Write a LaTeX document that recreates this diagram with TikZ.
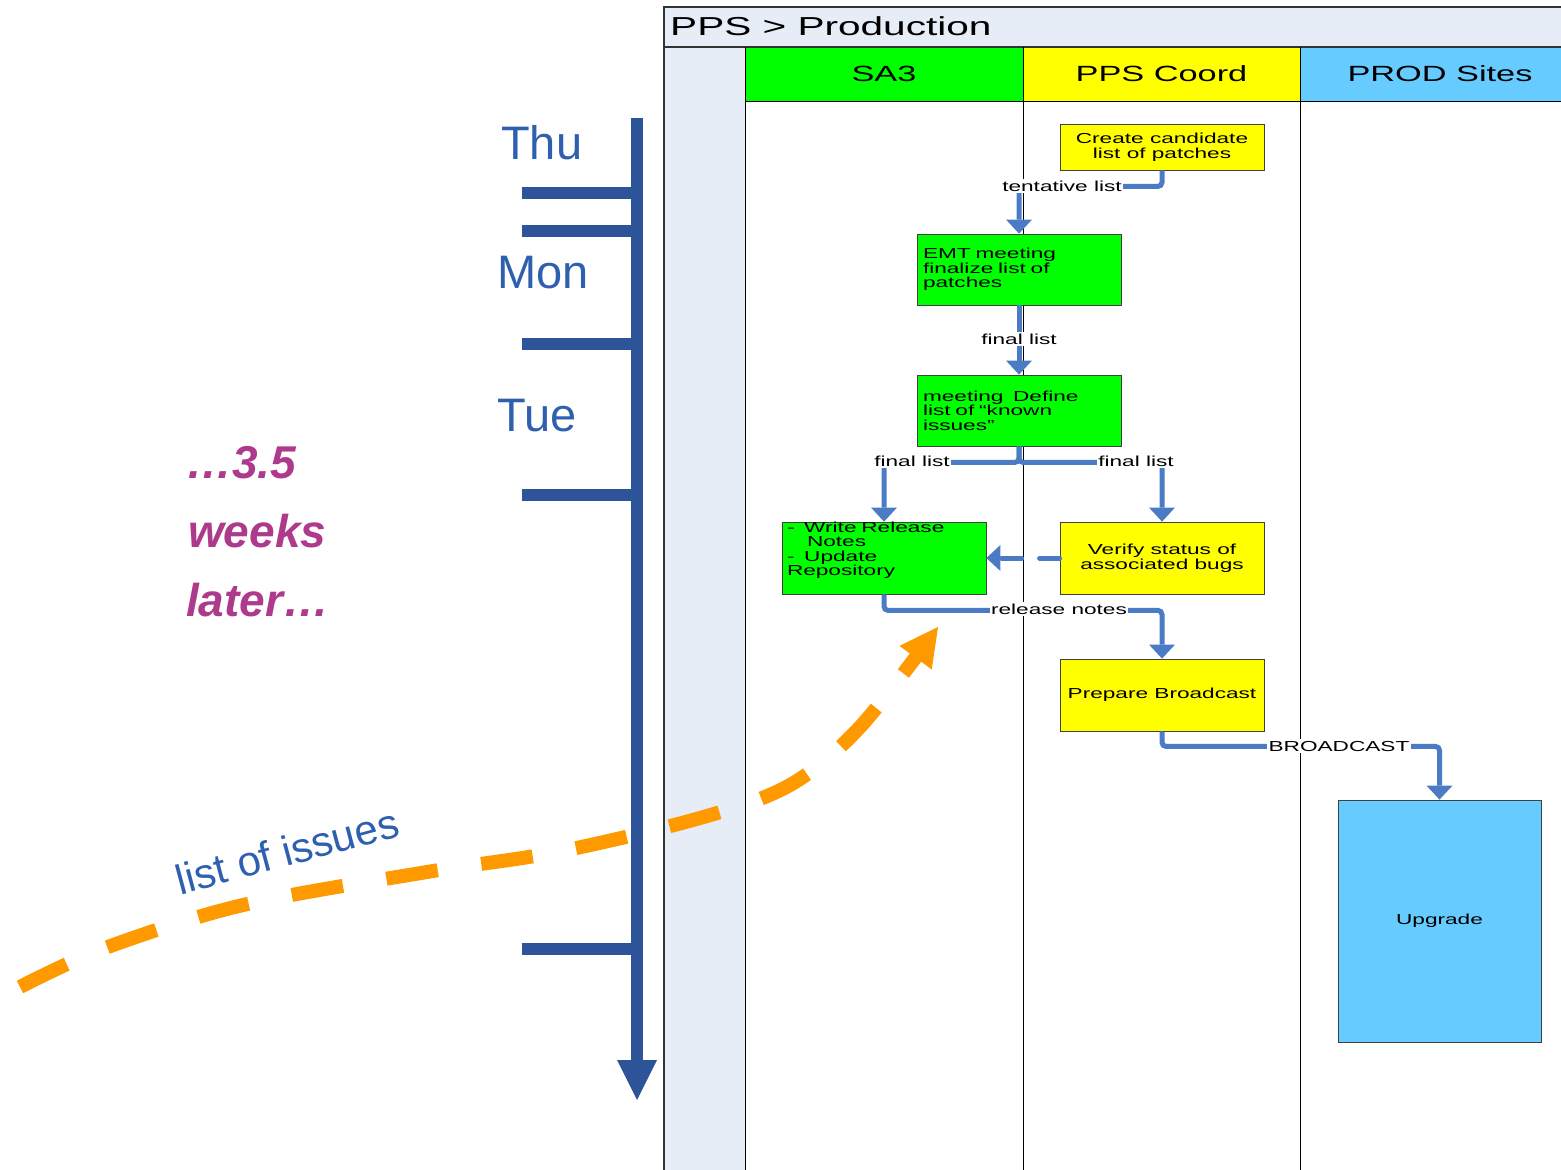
\documentclass[tikz,border=0pt]{standalone}
\usepackage{fontspec}
\setmainfont{Liberation Sans}
\newfontfamily\vis[FakeStretch=1.56]{Liberation Sans}
\usetikzlibrary{arrows.meta,calc}
\definecolor{laneblue}{HTML}{E6EDF7}
\definecolor{hgreen}{HTML}{00FF00}
\definecolor{hyellow}{HTML}{FFFF00}
\definecolor{hblue}{HTML}{66CCFF}
\definecolor{connblue}{HTML}{4A7BC4}
\definecolor{tlblue}{HTML}{2D5398}
\definecolor{txtblue}{HTML}{2F5FAF}
\definecolor{magen}{HTML}{AE3A8C}
\definecolor{orng}{HTML}{FF9900}
\definecolor{boxborder}{HTML}{404040}
\definecolor{framecol}{HTML}{333333}
\tikzset{
  smallfont/.style={font=\vis\fontsize{14.5}{14.5}\selectfont},
  box/.style={draw=boxborder, line width=0.8, minimum width=204, minimum height=71,
    inner sep=0, smallfont, align=center},
  lbox/.style={box, text width=192, align=left},
  hdr/.style={font=\vis\fontsize{22}{22}\selectfont},
  conn/.style={draw=connblue, line width=5, rounded corners=4,
    -{Triangle[length=14pt,width=26pt,line width=0pt]}},
  lab/.style={fill=white, inner sep=1.5pt, smallfont},
  tick/.style={draw=tlblue, line width=12},
  day/.style={text=txtblue, font=\fontsize{47}{47}\selectfont, anchor=base west, inner sep=0},
  later/.style={text=magen, font=\bfseries\itshape\fontsize{46}{46}\selectfont, anchor=base west, inner sep=0},
}
\begin{document}
\begin{tikzpicture}[x=1pt,y=-1pt]
\useasboundingbox (0,0) rectangle (1561,1170);
\clip (0,0) rectangle (1561,1170);
% frame
\fill[laneblue] (664,7) rectangle (1600,47);
\fill[laneblue] (664,47) rectangle (745,1200);
\fill[hgreen] (745,47) rectangle (1023,101);
\fill[hyellow] (1023,47) rectangle (1300,101);
\fill[hblue] (1300,47) rectangle (1600,101);
\draw[framecol, line width=1.5] (664,1200) -- (664,7) -- (1600,7);
\draw[framecol, line width=1.2] (664,47) -- (1600,47);
\draw[line width=0.8] (745,101) -- (1600,101);
\draw[line width=0.8] (745,47) -- (745,1200);
\draw[line width=0.8] (1023,47) -- (1023,1200);
\draw[line width=0.8] (1300,47) -- (1300,1200);
\node[anchor=west, inner sep=0, font=\vis\fontsize{26}{26}\selectfont] (title) at (670,26) {PPS > Production};
\node[hdr] (hsa) at (884,74) {SA3};
\node[hdr] (hpps) at (1161.5,74) {PPS Coord};
\node[hdr] (hprod) at (1440,74) {PROD Sites};
% boxes
\node[box, fill=hyellow, minimum height=46] (create) at (1162,147) {Create candidate\\list of patches};
\node[lbox, fill=hgreen] (emt) at (1019,269.5) {EMT meeting\\finalize list of\\patches};
\node[lbox, fill=hgreen] (meet) at (1019,410.5) {meeting\ \ Define\\list of “known\\issues”};
\node[box, fill=hgreen, minimum height=72] (wr) at (884,558) {};
\node[smallfont, text width=194, align=left, inner sep=0] (wrtext) at ([yshift=8pt]wr.center)
  {-\ \ Write Release\\\hspace*{20pt}Notes\\-\ \ Update\\Repository};
\node[box, fill=hyellow, minimum height=72] (ver) at (1162,558) {Verify status of\\associated bugs};
\node[box, fill=hyellow, minimum height=72] (prep) at (1162,695) {Prepare Broadcast};
\node[box, fill=hblue, minimum width=203, minimum height=242] (upg) at (1439.5,921) {Upgrade};
% connectors
\draw[conn] (create.south) -- ++(0,16) -| (emt.north);
\draw[conn] (emt.south) -- (meet.north);
\draw[conn] (meet.south) -- ++(0,16) -| (wr.north);
\draw[conn] (meet.south) -- ++(0,16) -| (ver.north);
\draw[conn, dash pattern=on 20pt off 18pt, line cap=round] (ver.west) -- (wr.east);
\draw[conn] (wr.south) -- ++(0,16) -| (prep.north);
\draw[conn] (prep.south) -- ++(0,15) -| (upg.north);
\node[lab] (l1) at (1062,186) {tentative list};
\node[lab] (l2) at (1019,339) {final list};
\node[lab] (l3) at (912,461) {final list};
\node[lab] (l4) at (1136,461) {final list};
\node[lab] (l5) at (1059,609) {release notes};
\node[lab] (l6) at (1339,746) {BROADCAST};
% timeline
\coordinate (tltop) at (637,118);
\coordinate (tlend) at (637,1100);
\draw[draw=tlblue, fill=tlblue, line width=12, -{Triangle[length=40pt,width=40pt,line width=0pt]}] (tltop) -- (tlend);
\foreach \yy/\nm in {193/a,231/b,344/c,495/d,949/e}{
  \coordinate (t\nm) at (522,\yy);
  \draw[tick] (t\nm) -- (tltop |- t\nm);
}
\node[day] (thu) at (501,159) {Thu};
\node[day] (mon) at (497,288) {Mon};
\node[day] (tue) at (497,431) {Tue};
\node[later] (w1) at (186,478) {…3.5};
\node[later] (w2) at (188,547) {weeks};
\node[later] (w3) at (186,616) {later…};
\node[text=txtblue, font=\fontsize{42}{42}\selectfont, rotate=15, inner sep=0] (issues) at (287,851) {list of issues};
% orange curve
\draw[orng, line width=14, dash pattern=on 52pt off 44pt, -{Triangle[length=38pt,width=40pt,line width=0pt]}]
  plot[smooth, tension=0.55] coordinates {(20,987) (105,948) (243,905) (427,872) (557,852) (700,818) (790,785) (860,727) (938,627)};
\end{tikzpicture}
\end{document}
